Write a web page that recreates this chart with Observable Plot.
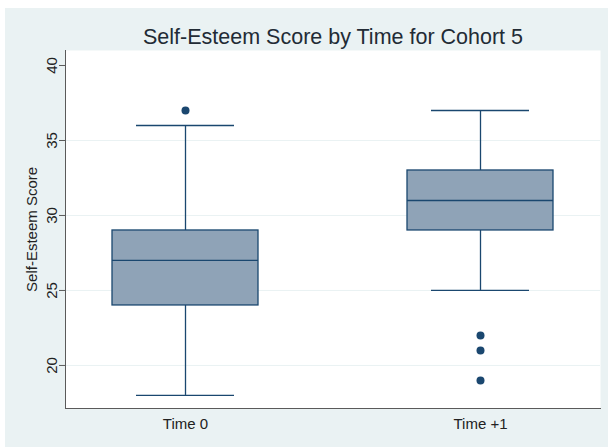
<!DOCTYPE html>
<html>
<head>
<meta charset="utf-8">
<script src="https://cdn.jsdelivr.net/npm/d3@7"></script>
<script src="https://cdn.jsdelivr.net/npm/@observablehq/plot@0.6"></script>
<style>
  html, body { margin: 0; padding: 0; background: #ffffff; }
  #wrap { position: absolute; left: 5px; top: 8px; width: 603px; height: 439px; background: #eaf2f3; }
  svg { display: block; }
</style>
</head>
<body>
<div id="wrap"></div>
<script>
const categories = ["Time 0", "Time +1"];
const whiskerLow = [18, 25];
const q1 = [24, 29];
const median = [27, 31];
const q3 = [29, 33];
const whiskerHigh = [36, 37];
const outlierTime = ["Time 0", "Time +1", "Time +1", "Time +1"];
const outlierValue = [37, 22, 21, 19];
const yTicks = [20, 25, 30, 35, 40];
const gridTicks = [20, 25, 30, 35];
const titleText = "Self-Esteem Score by Time for Cohort 5";
const yLabel = "Self-Esteem Score";

const boxes = categories.map((c, i) => ({
  cat: c, lo: whiskerLow[i], q1: q1[i], med: median[i], q3: q3[i], hi: whiskerHigh[i]
}));
const outliers = outlierTime.map((t, i) => ({cat: t, v: outlierValue[i]}));

const dark = "#1a476f";
const yDomain = [17.13, 41];

const chart = Plot.plot({
  width: 603,
  height: 439,
  marginLeft: 60,
  marginRight: 8,
  marginTop: 42,
  marginBottom: 39,
  style: {background: "transparent", fontFamily: "'Liberation Sans', Arial, sans-serif", fontSize: "15px", color: "#222"},
  x: {domain: categories, paddingInner: 0.505, paddingOuter: 0.159, align: 0.5, label: null},
  y: {domain: yDomain, label: null},
  marks: [
    Plot.frame({fill: "white", stroke: "none"}),
    Plot.ruleY(gridTicks, {stroke: "#eaf2f3", strokeWidth: 1}),
    Plot.frame({anchor: "left", stroke: "#5a5a5a", strokeWidth: 1}),
    Plot.frame({anchor: "bottom", stroke: "#5a5a5a", strokeWidth: 1}),
    Plot.axisY({ticks: yTicks, tickSize: 6, tickPadding: 3, tickRotate: -90, stroke: "#5a5a5a", fill: "#222", fontSize: 15, label: null}),
    Plot.axisX({tickSize: 0, tickPadding: 10, fill: "#222", fontSize: 15, label: null}),
    Plot.ruleX(boxes, {x: "cat", y1: "lo", y2: "q1", stroke: dark, strokeWidth: 1.3}),
    Plot.ruleX(boxes, {x: "cat", y1: "q3", y2: "hi", stroke: dark, strokeWidth: 1.3}),
    Plot.tickY(boxes, {x: "cat", y: "lo", stroke: dark, strokeWidth: 1.3, insetLeft: 24, insetRight: 24}),
    Plot.tickY(boxes, {x: "cat", y: "hi", stroke: dark, strokeWidth: 1.3, insetLeft: 24, insetRight: 24}),
    Plot.barY(boxes, {x: "cat", y1: "q1", y2: "q3", fill: "#8fa3b7", stroke: dark, strokeWidth: 1.3}),
    Plot.tickY(boxes, {x: "cat", y: "med", stroke: dark, strokeWidth: 1.3}),
    Plot.dot(outliers, {x: "cat", y: "v", r: 4, fill: dark, stroke: "none"}),
    Plot.text([titleText], {frameAnchor: "top", dy: -13, lineAnchor: "middle", text: d => d, fontSize: 21.5, fill: "#222b35"}),
    Plot.text([yLabel], {frameAnchor: "left", y: [29.07], text: d => d, rotate: -90, textAnchor: "middle", dx: -33, fontSize: 15, fill: "#222"})
  ]
});
document.getElementById("wrap").appendChild(chart);
</script>
</body>
</html>
